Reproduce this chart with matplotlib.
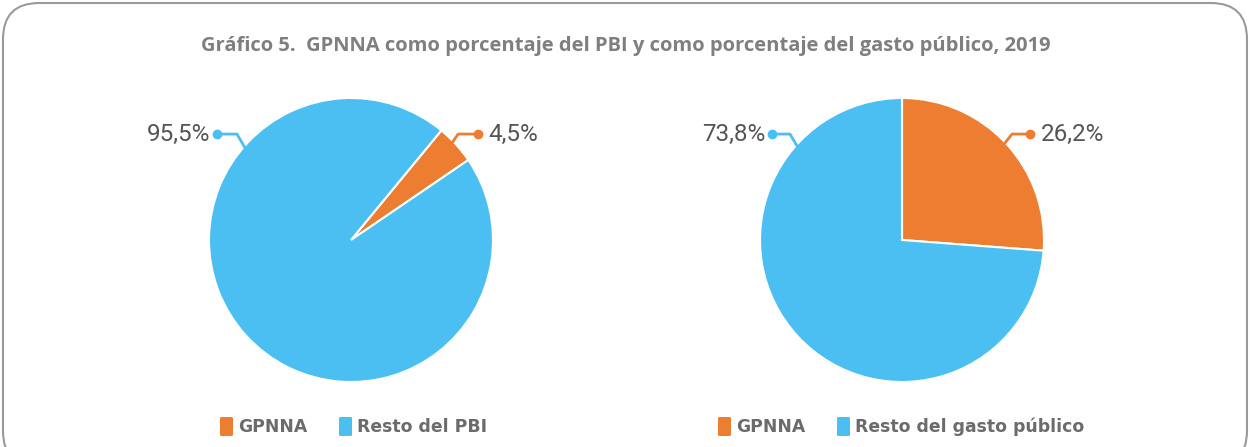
import matplotlib
matplotlib.use("Agg")
import matplotlib.pyplot as plt
from matplotlib.patches import FancyBboxPatch

title = "Gráfico 5.  GPNNA como porcentaje del PBI y como porcentaje del gasto público, 2019"
categories_left = ["GPNNA", "Resto del PBI"]
values_left = [4.5, 95.5]
categories_right = ["GPNNA", "Resto del gasto público"]
values_right = [26.2, 73.8]
labels_left = ["4,5%", "95,5%"]
labels_right = ["26,2%", "73,8%"]

ORANGE = "#ED7D31"
BLUE = "#4BBEF2"
colors = [ORANGE, BLUE]

W, H = 1250, 447
fig = plt.figure(figsize=(W / 100, H / 100), dpi=100)

# frame
frame = FancyBboxPatch((3 / W, -20 / H), (W - 6) / W, (H + 17) / H,
                       boxstyle="round,pad=0,rounding_size=0.029",
                       transform=fig.transFigure, fill=False,
                       edgecolor="#9a9a9a", linewidth=1.5, mutation_aspect=W / H)
fig.patches.append(frame)

fig.text(626 / W, 1 - 46 / H, title, ha="center", va="center",
         fontsize=14.5, fontweight="bold", color="#7f7f7f", family="Open Sans")

R = 142.0
HW, HH = 215, 160


def make_ax(cx, cy):
    ax = fig.add_axes([(cx - HW) / W, (H - cy - HH) / H, 2 * HW / W, 2 * HH / H])
    return ax


def finish(ax):
    ax.set_xlim(-HW / R, HW / R)
    ax.set_ylim(-HH / R, HH / R)
    ax.set_aspect("equal")
    ax.axis("off")


def leader(ax, anchor, elbow, dot, text, color, side):
    ax.plot([anchor[0], elbow[0], dot[0]], [anchor[1], elbow[1], dot[1]],
            color=color, lw=2, solid_capstyle="round", zorder=5)
    ax.plot([dot[0]], [dot[1]], "o", color=color, ms=6, zorder=6)
    if side == "right":
        ax.text(dot[0] + 0.075, dot[1] - 0.005, text, ha="left", va="center",
                fontsize=17.5, color="#555555", family="Roboto")
    else:
        ax.text(dot[0] - 0.05, dot[1] - 0.005, text, ha="right", va="center",
                fontsize=17.5, color="#555555", family="Roboto")


# left pie
axL = make_ax(351, 240)
axL.pie(values_left, colors=colors, startangle=50.5, counterclock=False,
        radius=1.0, wedgeprops=dict(edgecolor="white", linewidth=1.5))
finish(axL)
leader(axL, (0.711, 0.683), (0.754, 0.746), (0.894, 0.746), labels_left[0], ORANGE, "right")
leader(axL, (-0.746, 0.648), (-0.803, 0.746), (-0.944, 0.746), labels_left[1], BLUE, "left")

# right pie
axR = make_ax(902, 240)
axR.pie(values_right, colors=colors, startangle=90, counterclock=False,
        radius=1.0, wedgeprops=dict(edgecolor="white", linewidth=1.5))
finish(axR)
leader(axR, (0.725, 0.683), (0.775, 0.746), (0.901, 0.746), labels_right[0], ORANGE, "right")
leader(axR, (-0.739, 0.662), (-0.789, 0.746), (-0.915, 0.746), labels_right[1], BLUE, "left")


def legend(items, x0s):
    for (name, col), x0 in zip(items, x0s):
        sq = FancyBboxPatch((x0 / W, (H - 436) / H), 13 / W, 19 / H,
                            boxstyle="round,pad=0,rounding_size=0.002",
                            transform=fig.transFigure, facecolor=col, edgecolor="none")
        fig.patches.append(sq)
        fig.text((x0 + 18) / W, 1 - 427 / H, name, ha="left", va="center",
                 fontsize=12.4, fontweight="bold", color="#6b6b6b", family="DejaVu Sans")


legend(list(zip(categories_left, colors)), [220, 339])
legend(list(zip(categories_right, colors)), [718, 837])

fig.savefig("out.png", dpi=100)
